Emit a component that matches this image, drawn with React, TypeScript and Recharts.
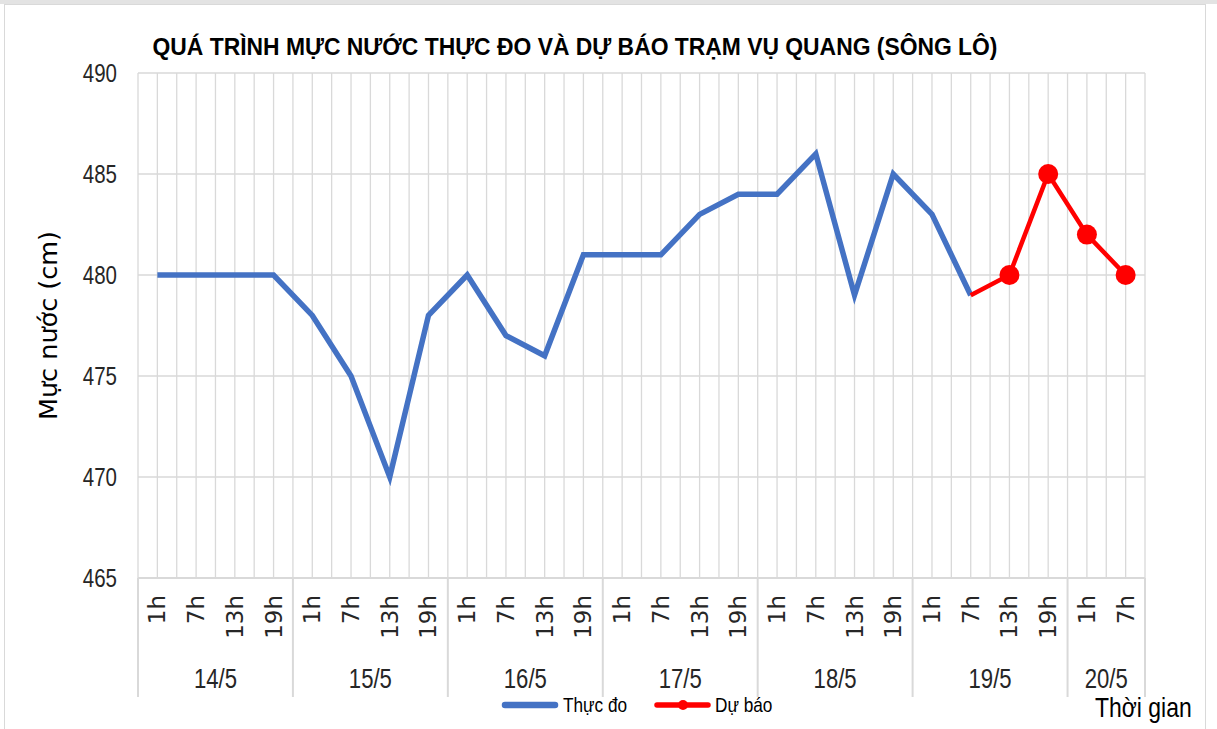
import React from 'react';
import { LineChart, Line, XAxis, YAxis, CartesianGrid, Customized } from 'recharts';

const hours = ['1h', '7h', '13h', '19h', '1h', '7h', '13h', '19h', '1h', '7h', '13h', '19h', '1h', '7h', '13h', '19h', '1h', '7h', '13h', '19h', '1h', '7h', '13h', '19h', '1h', '7h'];
const dateLabels = ['14/5', '15/5', '16/5', '17/5', '18/5', '19/5', '20/5'];
const dateCounts = [4, 4, 4, 4, 4, 4, 2];
const actual = [480, 480, 480, 480, 478, 475, 470, 478, 480, 477, 476, 481, 481, 481, 483, 484, 484, 486, 479, 485, 483, 479, null, null, null, null];
const forecast = [null, null, null, null, null, null, null, null, null, null, null, null, null, null, null, null, null, null, null, null, null, 479, 480, 485, 482, 480];
const yTicks = [465, 470, 475, 480, 485, 490];

const TITLE = 'QUÁ TRÌNH MỰC NƯỚC THỰC ĐO VÀ DỰ BÁO TRẠM VỤ QUANG (SÔNG LÔ)';
const Y_LABEL = 'Mực nước (cm)';
const X_LABEL = 'Thời gian';
const S1 = 'Thực đo';
const S2 = 'Dự báo';

const W = 1217;
const H = 729;
const M = { top: 73, right: 72, bottom: 0, left: 0 };
const Y_W = 138;
const X_H = 151;
const N = hours.length;
const PLOT_L = M.left + Y_W;
const PLOT_W = W - PLOT_L - M.right;
const STEP = PLOT_W / N;

const SANS = "'Liberation Sans', Arial, sans-serif";
const WIDE = "'DejaVu Sans', sans-serif";
const SX = 0.82;
const BLUE = '#4472C4';
const RED = '#FF0000';
const GRID = '#d9d9d9';
const TXT = '#262626';

const groupStart: Record<number, { label: string; count: number }> = {};
{
  let acc = 0;
  dateLabels.forEach((l, i) => {
    groupStart[acc] = { label: l, count: dateCounts[i] };
    acc += dateCounts[i];
  });
}

const data = hours.map((h, i) => ({ key: i, hour: h, actual: actual[i], forecast: forecast[i] }));

const gridX = Array.from({ length: 2 * N + 1 }, (_, k) => PLOT_L + (k * STEP) / 2);

const NText = ({ x, y, size, anchor = 'start', weight = 'normal', fill = TXT, dy, children }: any) => (
  <text
    transform={`translate(${x},${y}) scale(${SX},1)`}
    textAnchor={anchor}
    fontFamily={SANS}
    fontSize={size}
    fontWeight={weight}
    fill={fill}
    dy={dy}
  >
    {children}
  </text>
);

const HourTick = (props: any) => {
  const { x, y, payload } = props;
  const i = Number(payload.value);
  const g = groupStart[i];
  return (
    <g>
      <text
        transform={`translate(${x + 8},${y + 17}) rotate(-90)`}
        textAnchor="end"
        fontFamily={WIDE}
        fontSize={23}
        fill={TXT}
      >
        {hours[i]}
      </text>
      {g && (
        <g>
          <line x1={x - STEP / 2} x2={x - STEP / 2} y1={y} y2={y + 119} stroke={GRID} strokeWidth={2} />
          <NText x={x - STEP / 2 + (g.count * STEP) / 2} y={y + 110} size={27} anchor="middle">
            {g.label}
          </NText>
        </g>
      )}
      {i === N - 1 && (
        <line x1={x + STEP / 2} x2={x + STEP / 2} y1={y} y2={y + 119} stroke={GRID} strokeWidth={2} />
      )}
    </g>
  );
};

const YTick = (props: any) => {
  const { x, y, payload } = props;
  return (
    <NText x={x} y={y} size={25} anchor="end" dy="0.36em">
      {payload.value}
    </NText>
  );
};

const ForecastDot = (p: any) => {
  if (p.index > 21 && p.payload && p.payload.forecast != null) {
    return <circle key={`d${p.index}`} cx={p.cx} cy={p.cy} r={10} fill={RED} />;
  }
  return <g key={`d${p.index}`} />;
};

const Decor = () => (
  <g>
    <text
      x={575}
      y={55}
      textAnchor="middle"
      fontFamily={SANS}
      fontSize={24.5}
      fontWeight="bold"
      fill="#000"
      textLength={845}
      lengthAdjust="spacingAndGlyphs"
    >
      {TITLE}
    </text>
    <NText x={1095} y={717} size={28} fill="#000">
      {X_LABEL}
    </NText>
    <line x1={505} x2={555} y1={705} y2={705} stroke={BLUE} strokeWidth={6.5} strokeLinecap="round" />
    <NText x={563} y={712} size={21} fill="#000">
      {S1}
    </NText>
    <line x1={657} x2={708} y1={705} y2={705} stroke={RED} strokeWidth={5.5} strokeLinecap="round" />
    <circle cx={683} cy={705} r={5} fill={RED} />
    <NText x={715} y={712} size={21} fill="#000">
      {S2}
    </NText>
  </g>
);

export default function App() {
  return (
    <div style={{ position: 'absolute', left: 0, top: 0, width: W, height: H, background: '#fff', overflow: 'hidden' }}>
      <div style={{ position: 'absolute', left: 0, top: 0, width: W, height: 4, background: '#e3e3e3' }} />
      <div style={{ position: 'absolute', left: 4, top: 4, width: 1202, height: 740, border: '1.5px solid #d9d9d9', boxSizing: 'border-box' }} />
      <div style={{ position: 'absolute', left: 0, top: 0 }}>
        <LineChart width={W} height={H} data={data} margin={M}>
          <CartesianGrid stroke={GRID} strokeWidth={1.3} verticalPoints={gridX} />
          <XAxis
            dataKey="key"
            type="category"
            interval={0}
            height={X_H}
            padding={{ left: STEP / 2, right: STEP / 2 }}
            tickLine={false}
            tickSize={0}
            tickMargin={0}
            axisLine={{ stroke: GRID, strokeWidth: 2 }}
            tick={<HourTick />}
          />
          <YAxis
            domain={[465, 490]}
            ticks={yTicks}
            width={Y_W}
            axisLine={false}
            tickLine={false}
            tickSize={0}
            tickMargin={21}
            tick={<YTick />}
            label={{
              value: Y_LABEL,
              angle: -90,
              position: 'center',
              dx: -21,
              style: { fontFamily: WIDE, fontSize: 25.5, fill: '#000' },
            }}
          />
          <Line
            dataKey="actual"
            stroke={BLUE}
            strokeWidth={5.5}
            dot={false}
            activeDot={false}
            connectNulls={false}
            isAnimationActive={false}
          />
          <Line
            dataKey="forecast"
            stroke={RED}
            strokeWidth={4.5}
            dot={<ForecastDot />}
            activeDot={false}
            connectNulls={false}
            isAnimationActive={false}
          />
          <Customized component={<Decor />} />
        </LineChart>
      </div>
    </div>
  );
}
